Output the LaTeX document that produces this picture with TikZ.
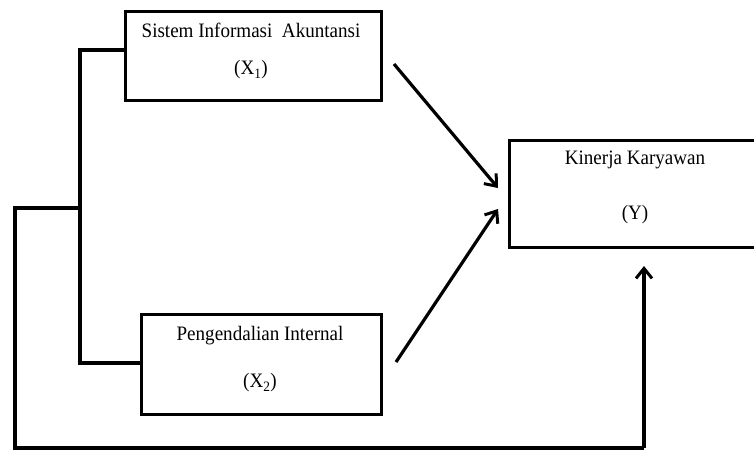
\documentclass[tikz,border=0pt]{standalone}
\usepackage{fontspec}
\setmainfont{Liberation Serif}
\usetikzlibrary{arrows.meta}
\begin{document}
\begin{tikzpicture}[x=1pt,y=-1pt,
  box/.style={draw=black,line width=3pt,minimum width=#1,inner sep=0pt,anchor=north west},
  lbl/.style={font=\fontsize{20.5}{20.5}\selectfont,inner sep=0pt,xscale=0.93},
  conn/.style={draw=black,line width=3.2pt},
  arr/.style={draw=black,line width=3.2pt,-{Straight Barb[length=10pt,width=16pt,line width=3pt]}}]
\useasboundingbox (0,0) rectangle (754,450);
\clip (0,0) rectangle (754,450);
\fill[white] (0,0) rectangle (754,450);
% boxes
\node[box=256pt,minimum height=89pt] (x1) at (124,10) {};
\node[box=264pt,minimum height=107pt] (y) at (508,139) {};
\node[box=240pt,minimum height=100pt] (x2) at (140,313) {};
% texts
\node[lbl] (t1a) at (251,30) {Sistem Informasi\ \ Akuntansi};
\node[lbl] (t1b) at (251,70) {(X\textsubscript{1})};
\node[lbl] (tya) at (635,160) {Kinerja Karyawan};
\node[lbl] (tyb) at (635,215) {(Y)};
\node[lbl] (t2a) at (260,336) {Pengendalian Internal};
\node[lbl] (t2b) at (260,383) {(X\textsubscript{2})};
% coordinates
\coordinate (b1) at (80,50);
\coordinate (b2) at (80,363);
\coordinate (bm) at (80,208);
\coordinate (l1) at (15,208);
\coordinate (l2) at (15,448);
\coordinate (l3) at (644,448);
\coordinate (ytip) at (644,266);
\coordinate (a1s) at (394,64);
\coordinate (a1e) at (498,188);
\coordinate (a2s) at (396,362);
\coordinate (a2e) at (498,209);
% connectors
\draw[conn] (x1.west |- b1) -- (b1) -- (b2) -- (x2.west |- b2);
\draw[conn] (bm) -- (l1) -- (l2) -- (l3);
\draw[arr] (l3) -- (ytip);
\draw[arr] (a1s) -- (a1e);
\draw[arr] (a2s) -- (a2e);
\end{tikzpicture}
\end{document}
